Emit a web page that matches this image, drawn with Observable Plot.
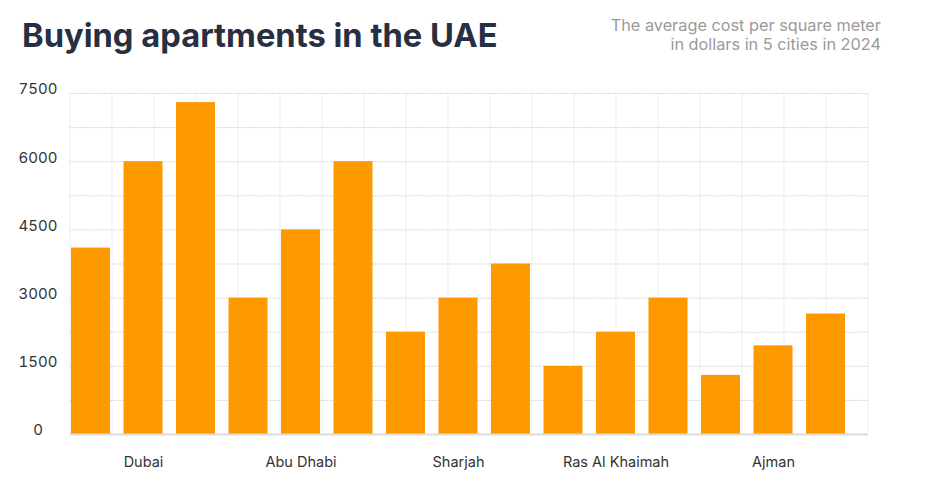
<!DOCTYPE html>
<html>
<head>
<meta charset="utf-8">
<script src="https://cdn.jsdelivr.net/npm/d3@7"></script>
<script src="https://cdn.jsdelivr.net/npm/@observablehq/plot@0.6"></script>
<style>
  html, body { margin: 0; padding: 0; background: #fff; }
  #wrap { position: relative; width: 935px; height: 491px; font-family: Inter, "Noto Sans", sans-serif; }
  #title { position: absolute; left: 22px; top: 15px; font-size: 32.7px; font-weight: 700; color: #263042; white-space: nowrap; }
  #subtitle { position: absolute; right: 54px; top: 16px; font-size: 16.3px; line-height: 18.5px; color: #9a9a9a; text-align: right; white-space: nowrap; }
  #chart { position: absolute; left: 0; top: 70px; }
</style>
</head>
<body>
<div id="wrap">
  <div id="title">Buying apartments in the UAE</div>
  <div id="subtitle">The average cost per square meter<br>in dollars in 5 cities in 2024</div>
  <div id="chart"></div>
</div>
<script>
const cities = ["Dubai", "Abu Dhabi", "Sharjah", "Ras Al Khaimah", "Ajman"];
const bar1 = [4100, 3000, 2250, 1500, 1300];
const bar2 = [6000, 4500, 3000, 2250, 1950];
const bar3 = [7300, 6000, 3750, 3000, 2650];
const yTicks = [0, 1500, 3000, 4500, 6000, 7500];
const gridValues = [750, 1500, 2250, 3000, 3750, 4500, 5250, 6000, 6750, 7500];
const verticalGridCount = 20;

const rows = [];
cities.forEach((c, i) => {
  [bar1[i], bar2[i], bar3[i]].forEach((v, j) => {
    rows.push({key: c + "|" + j, city: c, idx: j, value: v});
  });
});
const keys = rows.map(d => d.key);

const W = 935, H = 421, mL = 70, mR = 67, mT = 23, mB = 57;

function verticalGrid(index, scales, values, dims) {
  const g = document.createElementNS("http://www.w3.org/2000/svg", "g");
  const x0 = dims.marginLeft, x1 = dims.width - dims.marginRight;
  const yTop = scales.y(7500), yBot = scales.y(0);
  for (let i = 0; i < verticalGridCount; i++) {
    const x = x0 + (x1 - x0) * i / (verticalGridCount - 1);
    const l = document.createElementNS("http://www.w3.org/2000/svg", "line");
    l.setAttribute("x1", x); l.setAttribute("x2", x);
    l.setAttribute("y1", yTop); l.setAttribute("y2", yBot);
    l.setAttribute("stroke", "#efefef");
    l.setAttribute("stroke-width", 1);
    g.appendChild(l);
  }
  return g;
}

const chart = Plot.plot({
  width: W,
  height: H,
  marginLeft: mL,
  marginRight: mR,
  marginTop: mT,
  marginBottom: mB,
  style: {fontFamily: "Inter, 'Noto Sans', sans-serif", fontSize: "15px", color: "#333", background: "transparent"},
  x: {type: "band", domain: keys, range: [71, W - mR], paddingInner: 0.257, paddingOuter: 0.219, align: 0, round: false, axis: null, label: null},
  y: {domain: [0, 7500], axis: null, label: null},
  marks: [
    verticalGrid,
    Plot.ruleY(gridValues, {stroke: "#c9c9c9", strokeWidth: 1, strokeDasharray: "1.2,1.2"}),
    Plot.barY(rows, {x: "key", y: "value", fill: "#ff9900"}),
    Plot.ruleY([0], {stroke: "#dcdcdc", strokeWidth: 2}),
    Plot.axisY(yTicks, {label: null, tickSize: 0, tickPadding: 32.5, textAnchor: "middle", dy: -4, fontSize: 15, fill: "#333", tickFormat: d => String(d)}),
    Plot.axisX(keys, {label: null, tickSize: 0, tickPadding: 22, fontSize: 14.5, fill: "#333",
      tickFormat: k => { const r = rows.find(d => d.key === k); return r.idx === 1 ? r.city : ""; }})
  ]
});
document.getElementById("chart").appendChild(chart);
</script>
</body>
</html>
